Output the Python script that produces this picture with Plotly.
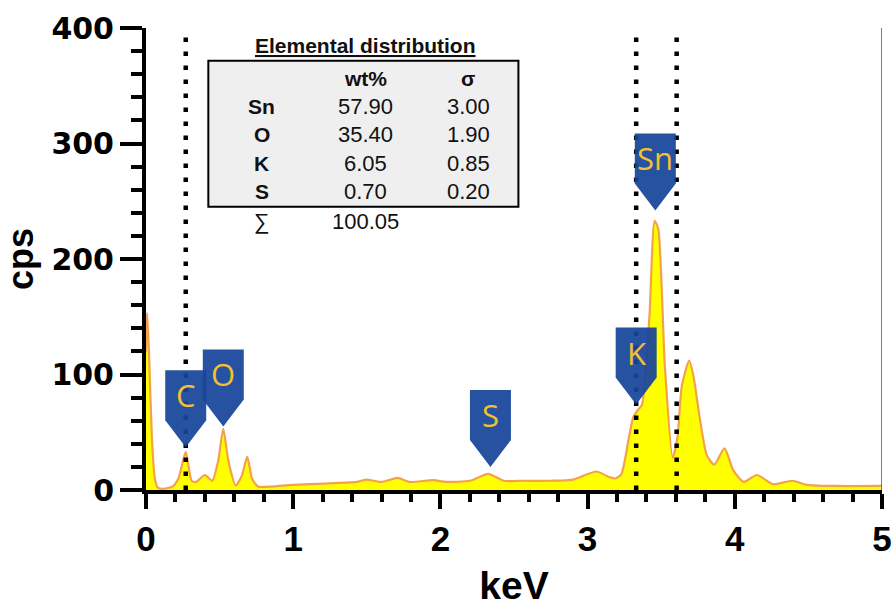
import plotly.graph_objects as go

# EDS spectrum (energy in keV, intensity in cps)
energy_kev = [0.00, 0.008, 0.02, 0.04, 0.06, 0.08, 0.12, 0.18, 0.22, 0.27, 0.31, 0.34,
              0.40, 0.45, 0.49, 0.525, 0.56, 0.61, 0.65, 0.688, 0.72, 0.76, 0.85, 1.00,
              1.20, 1.43, 1.50, 1.60, 1.71, 1.79, 1.95, 2.04, 2.20, 2.325, 2.43, 2.56,
              2.75, 2.90, 3.06, 3.15, 3.19, 3.23, 3.28, 3.31, 3.34, 3.37, 3.42, 3.455,
              3.48, 3.525, 3.578, 3.61, 3.64, 3.69, 3.72, 3.76, 3.81, 3.86, 3.93, 3.99,
              4.06, 4.15, 4.26, 4.39, 4.49, 4.67, 5.00]
counts_cps = [120, 153, 120, 45, 10, 2, 1, 3, 10, 33, 8, 7,
              13, 8, 25, 53, 25, 4, 12, 29, 10, 3, 3, 4.5,
              5.5, 7, 9, 7, 10.5, 7, 8.5, 7, 8, 14, 8, 8,
              8, 9, 16, 11, 10, 14, 45, 63, 69, 74, 150, 233,
              226, 107, 28, 45, 90, 112, 98, 64, 30, 22, 36, 17,
              7, 13, 5, 8, 4.5, 3.5, 3.5]

# Element line markers
line_labels = ["C", "O", "S", "K", "Sn"]
line_kev = [0.27, 0.525, 2.34, 3.33, 3.46]
line_tip_cps = [37, 55, 20, 74, 242]

# Dotted guide lines (keV)
guide_kev = [0.27, 3.33, 3.605]

# Elemental distribution table
elements = ["Sn", "O", "K", "S"]
wt_percent = [57.90, 35.40, 6.05, 0.70]
sigma = [3.00, 1.90, 0.85, 0.20]
total_wt = 100.05

x_ticks = [0, 1, 2, 3, 4, 5]
y_ticks = [0, 100, 200, 300, 400]

fig = go.Figure()

fig.add_trace(go.Scatter(
    x=energy_kev, y=counts_cps, mode="lines",
    line=dict(color="#F4A24A", width=2.2, shape="spline", smoothing=0.6),
    fill="tozeroy", fillcolor="#FFFF00", hoverinfo="skip", showlegend=False))

for gx in guide_kev:
    fig.add_trace(go.Scatter(
        x=[gx, gx], y=[0, 400], mode="lines",
        line=dict(color="black", width=4.5, dash="4.5px,9.5px"),
        hoverinfo="skip", showlegend=False))

shapes = []
annotations = []

# Pointer badges above the element peaks
badge_path = "M 0,0 L -20.5,27 L -20.5,77 L 20.5,77 L 20.5,27 Z"
for lab, kx, ky in zip(line_labels, line_kev, line_tip_cps):
    shapes.append(dict(
        type="path", xref="x", yref="y", xsizemode="pixel", ysizemode="pixel",
        xanchor=kx, yanchor=ky, path=badge_path,
        fillcolor="#17459A", line=dict(width=0), opacity=0.93, layer="above"))
    annotations.append(dict(
        x=kx, y=ky, xref="x", yref="y", text=lab, showarrow=False,
        yshift=52, yanchor="middle", xanchor="center",
        font=dict(family="Open Sans", size=31, color="#F2C12E")))

# Right frame line
shapes.append(dict(type="line", xref="x", yref="paper", x0=5, x1=5, y0=0, y1=1,
                   line=dict(color="#555555", width=1.5), layer="above"))

# Table box
shapes.append(dict(type="rect", xref="paper", yref="paper",
                   x0=0.0847, x1=0.506, y0=0.613, y1=0.929,
                   fillcolor="#EFEFEF", line=dict(color="black", width=2), layer="above"))

col_x = [0.157, 0.2985, 0.438]
row_y = [0.831, 0.769, 0.707, 0.646]
tbl_font = "Liberation Sans, Arial"
ink = "#111111"


def cell(x, y, text, size=21):
    annotations.append(dict(x=x, y=y, xref="paper", yref="paper", text=text,
                            showarrow=False, xanchor="center", yanchor="middle",
                            font=dict(family=tbl_font, size=size, color=ink)))


cell(0.2985, 0.963, "<b><u>Elemental distribution</u></b>", 21)
cell(col_x[1], 0.891, "<b>wt%</b>", 21)
cell(col_x[2], 0.891, "<b>σ</b>", 21)
for el, w, s, ry in zip(elements, wt_percent, sigma, row_y):
    cell(col_x[0], ry, f"<b>{el}</b>", 21)
    cell(col_x[1], ry, f"{w:.2f}", 22)
    cell(col_x[2], ry, f"{s:.2f}", 22)
cell(col_x[0], 0.581, "∑", 22)
cell(col_x[1], 0.581, f"{total_wt:.2f}", 22)

fig.update_layout(
    width=895, height=607,
    margin=dict(l=146, r=13, t=28, b=117, autoexpand=False),
    plot_bgcolor="white", paper_bgcolor="white",
    shapes=shapes, annotations=annotations,
    showlegend=False,
)

fig.update_xaxes(
    range=[0, 5], tickvals=x_ticks, ticktext=[str(v) for v in x_ticks],
    automargin=False,
    showgrid=False, zeroline=False,
    showline=True, linecolor="black", linewidth=4,
    ticks="outside", ticklen=15, tickwidth=4, tickcolor="black",
    minor=dict(dtick=0.2, ticks="outside", ticklen=8, tickwidth=4, tickcolor="black", showgrid=False),
    tickfont=dict(family="Liberation Sans, Arial", size=35, color="black", weight="bold"),
    title=dict(text="<b>keV</b>", font=dict(family="Liberation Sans, Arial", size=39, color="black"),
               standoff=29),
)
fig.update_yaxes(
    range=[0, 400], tickvals=y_ticks, ticktext=[str(v) for v in y_ticks],
    automargin=False,
    showgrid=False, zeroline=False,
    showline=True, linecolor="black", linewidth=4,
    ticks="outside", ticklen=22, tickwidth=4, tickcolor="black",
    minor=dict(dtick=20, ticks="outside", ticklen=11, tickwidth=4, tickcolor="black", showgrid=False),
    tickfont=dict(family="DejaVu Sans", size=30, color="black", weight="bold"),
    title=dict(text="<b>cps</b>", font=dict(family="Liberation Sans, Arial", size=36, color="black"),
               standoff=18),
)

fig.write_html("out.html")
